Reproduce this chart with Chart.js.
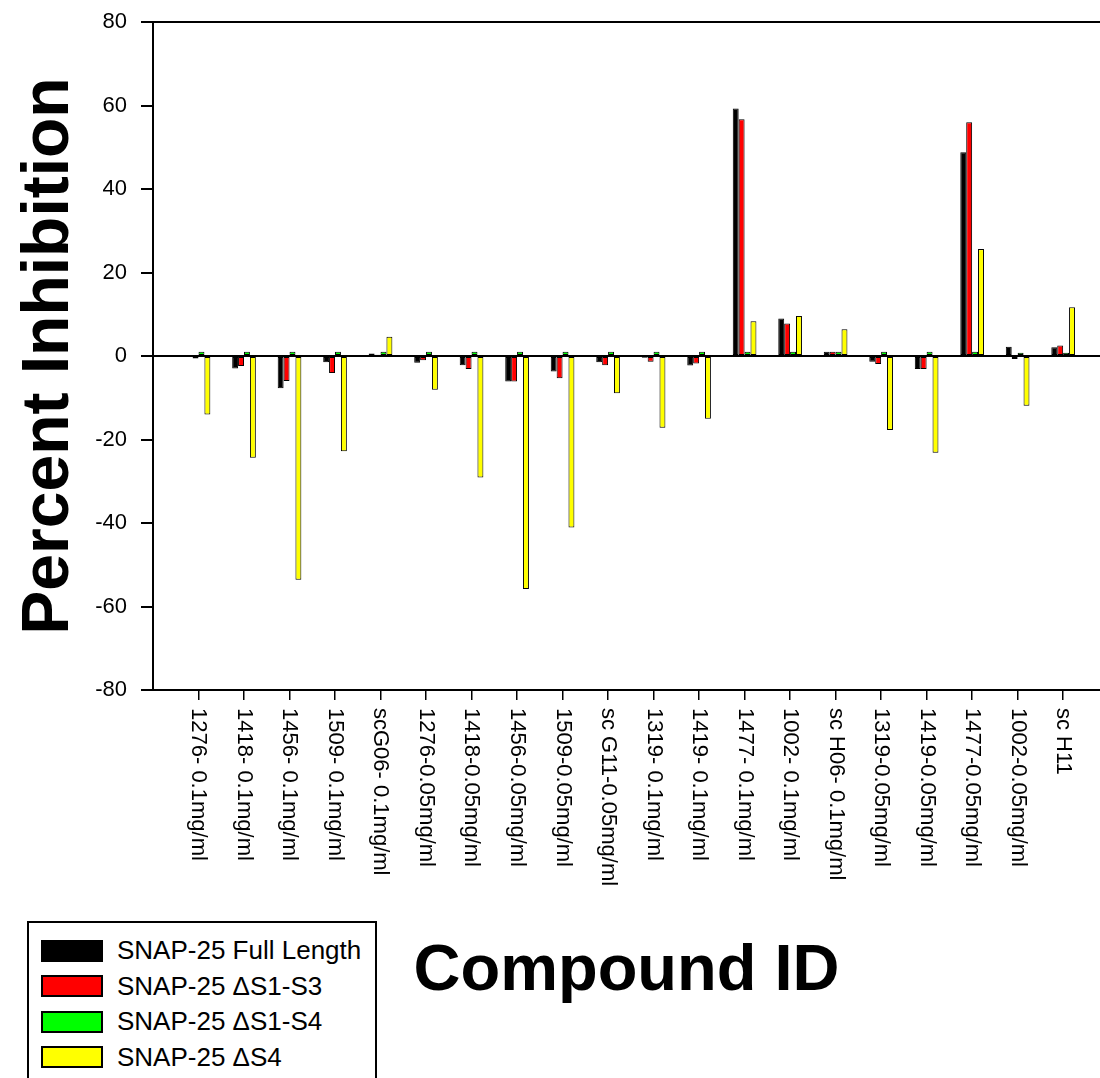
<!doctype html>
<html lang="en">
<head>
    <meta charset="utf-8">
    <title>Percent Inhibition by Compound</title>
    <script src="https://cdn.jsdelivr.net/npm/chart.js@4.4.0/dist/chart.umd.min.js"></script>
</head>
<style>
    body{
        margin: 0;
        overflow: hidden;
        font-family: "Liberation Sans", Arial, sans-serif;
        background: #fff;
    }
    #wrap{
        position: relative;
        width: 1100px;
        height: 1078px;
    }
    #legend{
        position: absolute;
        left: 27px;
        top: 921px;
        width: 350px;
        height: 180px;
        border: 2px solid #000;
        background: #fff;
        padding-top: 10px;
        box-sizing: border-box;
    }
    .item{
        display: flex;
        align-items: center;
        height: 35.5px;
        font-size: 26px;
        color: #000;
    }
    .swatch{
        width: 58px;
        height: 18px;
        border: 2px solid #000;
        margin-left: 12px;
        margin-right: 14px;
    }
</style>
<body>
    <div id="wrap">
        <canvas id="myChart"></canvas>
        <div id="legend"></div>
    </div>

  <script>
        // compound ids along the x axis
        let compounds = [
            "1276- 0.1mg/ml", "1418- 0.1mg/ml", "1456- 0.1mg/ml", "1509- 0.1mg/ml", "scG06- 0.1mg/ml",
            "1276-0.05mg/ml", "1418-0.05mg/ml", "1456-0.05mg/ml", "1509-0.05mg/ml", "sc G11-0.05mg/ml",
            "1319- 0.1mg/ml", "1419- 0.1mg/ml", "1477- 0.1mg/ml", "1002- 0.1mg/ml", "sc H06- 0.1mg/ml",
            "1319-0.05mg/ml", "1419-0.05mg/ml", "1477-0.05mg/ml", "1002-0.05mg/ml", "sc H11"
        ];

        // percent inhibition per construct
        let fullLength = [-0.2, -3.0, -7.7, -1.5, 0.6, -1.6, -2.2, -6.1, -3.7, -1.5,
                          -0.4, -2.3, 59.3, 9.0, 1.0, -1.4, -3.1, 48.8, 2.2, 2.1];
        let dS1S3 = [-0.6, -2.4, -6.0, -4.1, 0.3, -1.0, -3.1, -6.1, -5.3, -2.2,
                     -1.4, -1.8, 56.7, 7.8, 1.0, -1.9, -3.1, 56.0, -0.7, 2.5];
        let dS1S4 = [1.0, 1.0, 1.0, 1.0, 1.0, 1.0, 1.0, 1.0, 1.0, 1.0,
                     1.0, 1.0, 1.0, 1.0, 1.0, 1.0, 1.0, 1.0, 0.8, 0.8];
        let dS4 = [-14.0, -24.4, -53.6, -22.8, 4.6, -8.1, -29.1, -55.8, -41.1, -8.9,
                   -17.2, -15.0, 8.3, 9.6, 6.4, -17.7, -23.2, 25.6, -11.9, 11.7];

        let yTicks = [-80, -60, -40, -20, 0, 20, 40, 60, 80];

        let seriesNames = ["SNAP-25 Full Length", "SNAP-25 \u0394S1-S3", "SNAP-25 \u0394S1-S4", "SNAP-25 \u0394S4"];
        let seriesColors = ["#000000", "#ff0000", "#00ff00", "#ffff00"];

        const FONT = '"Liberation Sans", Arial, sans-serif';

        let toPoints = (values) => values.map((v, i) => ({x: i + 1, y: v}));

        let datasets = [fullLength, dS1S3, dS1S4, dS4].map((values, k) => ({
            label: seriesNames[k],
            data: toPoints(values),
            backgroundColor: seriesColors[k],
            borderColor: "#000",
            borderWidth: 1,
            borderSkipped: false,
            categoryPercentage: 0.52,
            barPercentage: 1.0
        }));

        // x labels read top to bottom, so they are drawn here instead of by the scale
        const xLabels = {
            id: "xLabels",
            afterDraw(chart){
                let ctx = chart.ctx;
                let xs = chart.scales.x;
                let top = chart.chartArea.bottom + 18;
                ctx.save();
                ctx.font = "22px " + FONT;
                ctx.fillStyle = "#000";
                ctx.textAlign = "left";
                ctx.textBaseline = "middle";
                compounds.forEach((name, i) => {
                    ctx.save();
                    ctx.translate(xs.getPixelForValue(i + 1), top);
                    ctx.rotate(Math.PI / 2);
                    ctx.fillText(name, 0, 0);
                    ctx.restore();
                });
                ctx.restore();
            }
        };

        let myChart = new Chart(document.getElementById("myChart"), {
            type: "bar",
            data: {datasets: datasets},
            plugins: [xLabels],
            options: {
                responsive: true,
                maintainAspectRatio: false,
                animation: false,
                layout: {padding: {top: 22, right: 0, left: 0, bottom: 0}},
                plugins: {
                    legend: {display: false},
                    tooltip: {enabled: false}
                },
                scales: {
                    x: {
                        type: "linear",
                        offset: false,
                        min: 0,
                        max: 20.81,
                        afterBuildTicks: (scale) => {
                            scale.ticks = compounds.map((c, i) => ({value: i + 1}));
                        },
                        afterFit: (scale) => { scale.height = 388; },
                        ticks: {display: false},
                        grid: {
                            offset: false,
                            drawOnChartArea: false,
                            drawTicks: true,
                            tickLength: 10,
                            color: "#000",
                            lineWidth: 1.5
                        },
                        border: {color: "#000", width: 2},
                        title: {
                            display: true,
                            text: "Compound ID",
                            color: "#000",
                            font: {family: FONT, size: 65, weight: "bold"},
                            padding: {top: 0, bottom: 67}
                        }
                    },
                    y: {
                        min: -80,
                        max: 80,
                        afterBuildTicks: (scale) => {
                            scale.ticks = yTicks.map(v => ({value: v}));
                        },
                        afterFit: (scale) => { scale.width = 153; },
                        ticks: {
                            color: "#000",
                            padding: 14,
                            font: {family: FONT, size: 22, lineHeight: 0.7}
                        },
                        grid: {
                            color: (c) => (c.tick && (c.tick.value === 0 || c.tick.value === 80)) ? "#000" : "rgba(0,0,0,0)",
                            lineWidth: 2,
                            tickColor: "#000",
                            tickLength: 12,
                            drawTicks: true
                        },
                        border: {color: "#000", width: 2},
                        title: {
                            display: true,
                            text: "Percent Inhibition",
                            color: "#000",
                            font: {family: FONT, size: 66, weight: "bold"},
                            padding: {top: 10, bottom: 0}
                        }
                    }
                }
            }
        });

        // legend box at the lower left
        let legend = document.getElementById("legend");
        seriesNames.forEach((name, k) => {
            let row = document.createElement("div");
            row.className = "item";
            let sw = document.createElement("span");
            sw.className = "swatch";
            sw.style.background = seriesColors[k];
            let txt = document.createElement("span");
            txt.textContent = name;
            row.appendChild(sw);
            row.appendChild(txt);
            legend.appendChild(row);
        });
  </script>
</body>
</html>
